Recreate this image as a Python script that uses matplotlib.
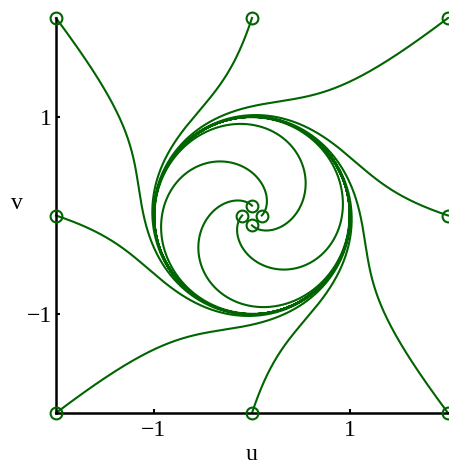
import numpy as np
import matplotlib
matplotlib.use("Agg")
import matplotlib.pyplot as plt

# start points of trajectories
u0 = [-2, 0, 2, -2, 2, -2, 0, 2, 0.0, -0.1, 0.1, 0.0]
v0 = [2, 2, 2, 0, 0, -2, -2, -2, 0.1, 0.0, 0.0, -0.1]
omega = 1.0
t_end = 20.0
xticks = [-1, 1]
yticks = [-1, 1]

def f(s):
    u, v = s
    r2 = u*u + v*v
    return np.array([u - omega*v - u*r2, omega*u + v - v*r2])

def integrate(s0, dt=0.002, T=t_end):
    n = int(T/dt)
    out = np.empty((n+1, 2))
    s = np.array(s0, float)
    out[0] = s
    for i in range(n):
        k1 = f(s); k2 = f(s+dt/2*k1); k3 = f(s+dt/2*k2); k4 = f(s+dt*k3)
        s = s + dt/6*(k1+2*k2+2*k3+k4)
        out[i+1] = s
    return out

plt.rcParams['font.family'] = ['Liberation Serif', 'DejaVu Serif']
fig = plt.figure(figsize=(4.49, 4.66), dpi=100)
ax = fig.add_axes([56/449, 53/466, 392/449, 395/466])
col = '#006400'
for a, b in zip(u0, v0):
    tr = integrate((a, b))
    ax.plot(tr[:, 0], tr[:, 1], color=col, lw=1.5, clip_on=False)
    ax.plot(a, b, 'o', mfc='none', mec=col, mew=1.5, ms=8.5, clip_on=False, zorder=3)
ax.set_xlim(-2, 2)
ax.set_ylim(-2, 2)
ax.set_xticks(xticks)
ax.set_yticks(yticks)
ax.set_xticklabels(['\u22121', '1'])
ax.set_yticklabels(['\u22121', '1'])
ax.tick_params(direction='in', length=3, width=1.5, labelsize=17, pad=3)
ax.tick_params(axis='x', pad=5)
for s in ['top', 'right']:
    ax.spines[s].set_visible(False)
for s in ['left', 'bottom']:
    ax.spines[s].set_linewidth(1.8)
ax.set_xlabel('u', fontsize=17, labelpad=2)
ax.set_ylabel('v', fontsize=17, rotation=0, labelpad=0, va='center')
ax.yaxis.set_label_coords(-0.1, 0.53)
fig.savefig('out.png', dpi=100)
